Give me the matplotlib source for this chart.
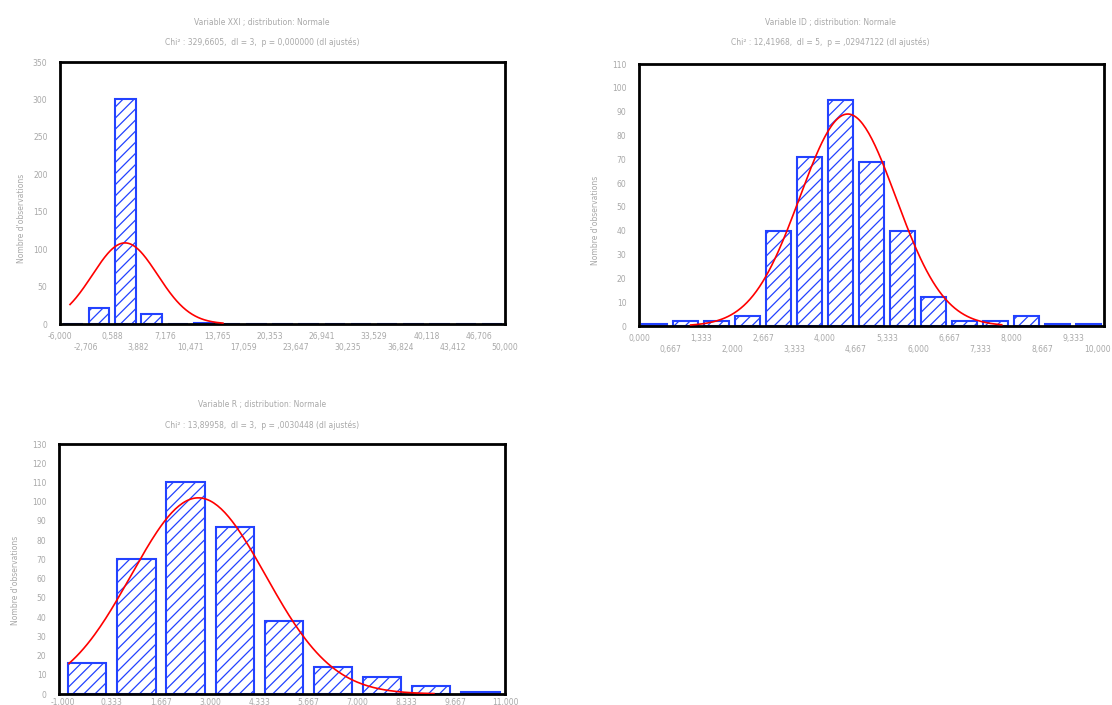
import matplotlib
matplotlib.use("Agg")
import matplotlib.pyplot as plt
import matplotlib.transforms as mtransforms
import numpy as np

# --- data -----------------------------------------------------------------
# Variable XXI : 17 classes from -6 to 50
xxi_edges = np.linspace(-6.0, 50.0, 18)
xxi_counts = [0, 22, 300, 14, 0, 2, 0, 0, 0, 0, 0, 0, 0, 0, 0, 0, 0]
xxi_mean, xxi_sd = 2.18, 4.1
xxi_curve_span = (-4.74, 14.5)
xxi_title = ["Variable XXI ; distribution: Normale",
             "Chi² : 329,6605,  dl = 3,  p = 0,000000 (dl ajustés)"]

# Variable ID : 15 classes from 0 to 10
id_edges = np.linspace(0.0, 10.0, 16)
id_counts = [1, 2, 2, 4, 40, 71, 95, 69, 40, 12, 2, 2, 4, 1, 1]
id_mean, id_sd = 4.49, 1.034
id_curve_span = (1.11, 7.8)
id_title = ["Variable ID ; distribution: Normale",
            "Chi² : 12,41968,  dl = 5,  p = ,02947122 (dl ajustés)"]

# Variable R : 9 classes from -1 to 11
r_edges = np.linspace(-1.0, 11.0, 10)
r_counts = [16, 70, 110, 87, 38, 14, 9, 4, 1]
r_mean, r_sd = 2.68, 1.82
r_curve_span = (-0.83, 9.07)
r_title = ["Variable R ; distribution: Normale",
           "Chi² : 13,89958,  dl = 3,  p = ,0030448 (dl ajustés)"]

ylabel = "Nombre d'observations"

BLUE = "#2342ff"
GREY = "#a8a8a8"
plt.rcParams["hatch.linewidth"] = 0.9
plt.rcParams["font.family"] = "DejaVu Sans"


def fmt(v):
    return f"{v:.3f}".replace(".", ",")


def histo(ax, edges, counts, mean, sd, span, ymax, ystep, two_rows=True):
    edges = np.asarray(edges)
    width = edges[1] - edges[0]
    centers = (edges[:-1] + edges[1:]) / 2
    ax.bar(centers, counts, width=width * 0.78, facecolor="white",
           edgecolor=BLUE, linewidth=1.5, hatch="///", zorder=2)

    # fitted normal curve, scaled to expected counts per class
    n = sum(counts)
    xs = np.linspace(span[0], span[1], 200)
    ys = n * width * np.exp(-0.5 * ((xs - mean) / sd) ** 2) / (sd * np.sqrt(2 * np.pi))
    ax.plot(xs, ys, color="red", lw=1.2, zorder=3)

    ax.set_xlim(edges[0], edges[-1])
    ax.set_ylim(0, ymax)
    ax.set_yticks(np.arange(0, ymax + 1, ystep))
    ax.set_xticks(edges)
    if two_rows:
        labels = [fmt(v) if i % 2 == 0 else "\n" + fmt(v) for i, v in enumerate(edges)]
    else:
        labels = [fmt(v) for v in edges]
    ax.set_xticklabels(labels)
    ax.tick_params(length=0, labelsize=5.5, labelcolor=GREY, pad=6)
    ax.tick_params(axis="y", pad=9)
    for s in ax.spines.values():
        s.set_color("black")
        s.set_linewidth(2.0)


W, H = 1112, 705
fig = plt.figure(figsize=(W / 100, H / 100), dpi=100)


def box(l, t, r, b):
    return [l / W, 1 - b / H, (r - l) / W, (b - t) / H]


ax1 = fig.add_axes(box(60, 62, 505, 324))
histo(ax1, xxi_edges, xxi_counts, xxi_mean, xxi_sd, xxi_curve_span, 350, 50)

ax2 = fig.add_axes(box(639, 64, 1104, 326))
histo(ax2, id_edges, id_counts, id_mean, id_sd, id_curve_span, 110, 10)
# keep the last class label inside the figure
last = ax2.get_xticklabels()[-1]
last.set_transform(last.get_transform() +
                   mtransforms.ScaledTranslation(-6 / 100, 0, fig.dpi_scale_trans))

ax3 = fig.add_axes(box(59, 444, 505, 694))
histo(ax3, r_edges, r_counts, r_mean, r_sd, r_curve_span, 130, 10, two_rows=False)
ax3.set_xlim(-1.1, 11.0)
ax3.tick_params(axis="x", pad=3)

# titles and axis captions
for (cx, y1, y2), lines in [((262, 23, 42), xxi_title),
                            ((830, 22, 42), id_title),
                            ((262, 404, 425), r_title)]:
    fig.text(cx / W, 1 - y1 / H, lines[0], ha="center", va="center",
             fontsize=5.5, color=GREY)
    fig.text(cx / W, 1 - y2 / H, lines[1], ha="center", va="center",
             fontsize=5.5, color=GREY)

for x, y in [(22, 218), (596, 220), (16, 580)]:
    fig.text(x / W, 1 - y / H, ylabel, rotation=90, ha="center", va="center",
             fontsize=5.5, color=GREY)

fig.savefig("out.png", dpi=100)
